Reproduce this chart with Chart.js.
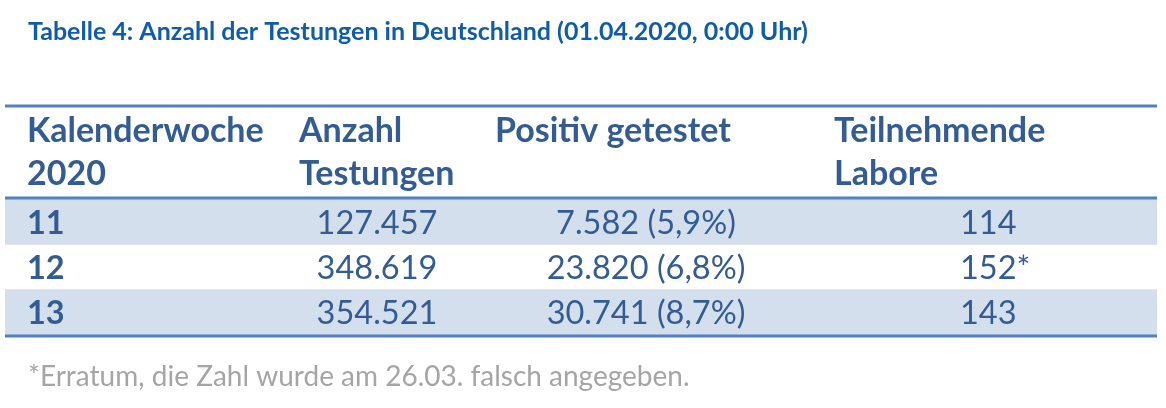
<!DOCTYPE html>
<html>
<head>
<meta charset="utf-8">
<script src="https://cdn.jsdelivr.net/npm/chart.js@4/dist/chart.umd.min.js"></script>
<style>
  html, body { margin: 0; padding: 0; background: #fff; }
  #wrap { width: 1166px; height: 408px; }
</style>
</head>
<body>
<div id="wrap"><canvas id="tbl" width="1166" height="408"></canvas></div>
<script>
const title = 'Tabelle 4: Anzahl der Testungen in Deutschland (01.04.2020, 0:00 Uhr)';
const footnote = '*Erratum, die Zahl wurde am 26.03. falsch angegeben.';
const headers = [['Kalenderwoche', '2020'], ['Anzahl', 'Testungen'], ['Positiv getestet'], ['Teilnehmende', 'Labore']];
const weeks = ['11', '12', '13'];
const tests = [127457, 348619, 354521];
const positives = [7582, 23820, 30741];
const positiveShare = [5.9, 6.8, 8.7];
const labs = [114, 152, 143];
const labMarks = ['', '*', ''];

const BLUE = '#335C94';
const LINE = '#5082C0';
const BAND = '#D4DFEE';
const TABLE_W = 1152;

// column anchors, px from the table's left edge (x scale runs 0..TABLE_W)
const cols = [
  { head: 22, cell: 22, align: 'left', bold: true },
  { head: 294, cell: 372, align: 'center' },
  { head: 490, cell: 641, align: 'center' },
  { head: 829, cell: 955, align: 'left' }
];

const fmt = n => String(n).replace(/\B(?=(\d{3})+(?!\d))/g, '.');
const pct = v => v.toFixed(1).replace('.', ',');
const rows = weeks.map((w, i) => [
  w,
  fmt(tests[i]),
  `${fmt(positives[i])} (${pct(positiveShare[i])}%)`,
  labs[i] + labMarks[i]
]);

const tablePlugin = {
  id: 'tableText',
  afterDatasetsDraw(chart) {
    const { ctx, chartArea: a, scales: { x, y } } = chart;
    const px = v => x.getPixelForValue(v);
    ctx.save();
    ctx.textBaseline = 'alphabetic';

    // title
    ctx.fillStyle = '#0F5CAB';
    ctx.font = 'bold 25px Lato';
    ctx.textAlign = 'left';
    ctx.fillText(title, 28, 40);

    // rules
    ctx.strokeStyle = LINE;
    ctx.lineWidth = 3;
    [a.top - 93, a.top - 1, a.bottom + 1].forEach(yy => {
      ctx.beginPath();
      ctx.moveTo(a.left, yy);
      ctx.lineTo(a.right, yy);
      ctx.stroke();
    });

    // header
    ctx.fillStyle = BLUE;
    ctx.font = 'bold 34px Lato';
    headers.forEach((h, c) => h.forEach((t, k) => {
      ctx.fillText(t, px(cols[c].head), a.top - 57 + k * 43);
    }));

    // cells
    rows.forEach((r, i) => {
      const cy = y.getPixelForValue(i) + 12;
      r.forEach((t, c) => {
        ctx.font = (cols[c].bold ? 'bold ' : '') + '32.5px Lato';
        ctx.textAlign = cols[c].align;
        ctx.fillText(t, px(cols[c].cell), cy);
      });
    });

    // footnote
    ctx.fillStyle = '#A5A5A5';
    ctx.font = '28px Lato';
    ctx.textAlign = 'left';
    ctx.fillText(footnote, 28, 386);
    ctx.restore();
  }
};

new Chart(document.getElementById('tbl'), {
  type: 'bar',
  data: {
    labels: weeks,
    datasets: [{
      label: 'Zeilen',
      data: weeks.map((w, i) => (i % 2 ? null : [0, TABLE_W])),
      backgroundColor: BAND,
      borderWidth: 0,
      barPercentage: 1,
      categoryPercentage: 1
    }]
  },
  options: {
    indexAxis: 'y',
    responsive: false,
    animation: false,
    devicePixelRatio: 1,
    events: [],
    layout: { padding: { top: 199, bottom: 73, left: 5, right: 9 } },
    scales: {
      x: { type: 'linear', min: 0, max: TABLE_W, display: false },
      y: { type: 'category', display: false }
    },
    plugins: {
      legend: { display: false },
      tooltip: { enabled: false },
      title: { display: false }
    }
  },
  plugins: [tablePlugin]
});
</script>
</body>
</html>
